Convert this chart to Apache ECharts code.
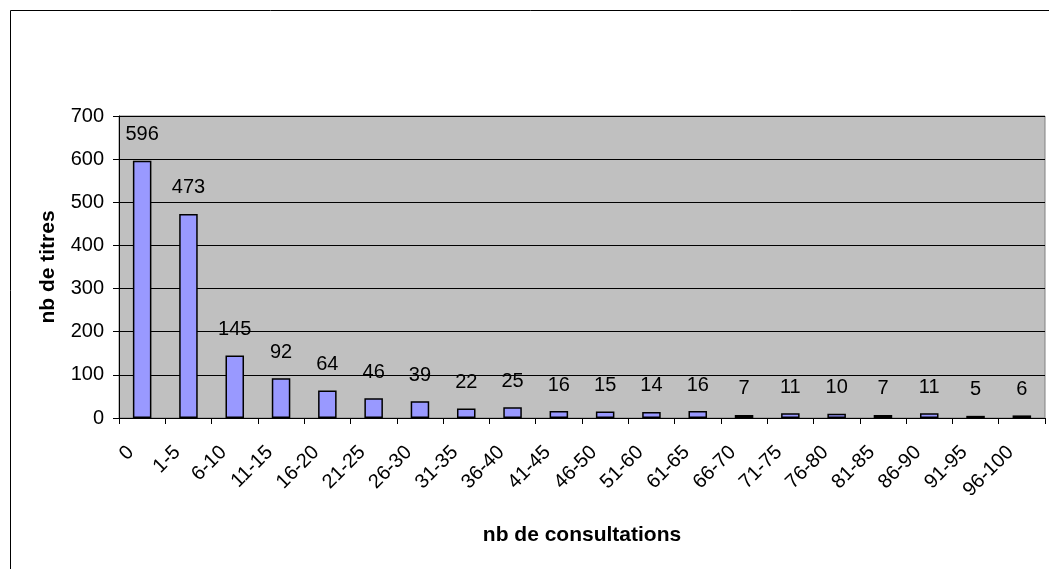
<!DOCTYPE html>
<html>
<head>
<meta charset="utf-8">
<script src="https://cdn.jsdelivr.net/npm/echarts@6/dist/echarts.min.js"></script>
<style>
  html, body { margin: 0; padding: 0; background: #fff; }
  #chart { width: 1049px; height: 569px; }
</style>
</head>
<body>
<div id="chart"></div>
<script>
// Number of titles per range of consultations
const categories = ['0', '1-5', '6-10', '11-15', '16-20', '21-25', '26-30', '31-35', '36-40', '41-45',
  '46-50', '51-60', '61-65', '66-70', '71-75', '76-80', '81-85', '86-90', '91-95', '96-100'];
const titleCounts = [596, 473, 145, 92, 64, 46, 39, 22, 25, 16, 15, 14, 16, 7, 11, 10, 7, 11, 5, 6];
const yTicks = { min: 0, max: 700, interval: 100 };

const chart = echarts.init(document.getElementById('chart'));
const font = 'Arial, "Liberation Sans", sans-serif';

chart.setOption({
  animation: false,
  graphic: [{
    type: 'rect',
    shape: { x: 10.5, y: 10.5, width: 1100, height: 600 },
    style: { fill: 'none', stroke: '#000', lineWidth: 1 },
    silent: true
  }],
  grid: {
    left: 119, top: 116, right: 4, bottom: 151,
    show: true, backgroundColor: '#C0C0C0', borderColor: '#808080', borderWidth: 1
  },
  xAxis: {
    type: 'category',
    data: categories,
    boundaryGap: true,
    name: 'nb de consultations',
    nameLocation: 'middle',
    nameGap: 107,
    nameTextStyle: { fontFamily: font, fontSize: 21, fontWeight: 'bold', color: '#000' },
    axisLine: { lineStyle: { color: '#000', width: 1 } },
    axisTick: { show: true, alignWithLabel: false, length: 6, lineStyle: { color: '#000' } },
    axisLabel: {
      rotate: 45, margin: 20, interval: 0, padding: [0, 16, 0, 0],
      fontFamily: font, fontSize: 20, color: '#000'
    },
    splitLine: { show: false }
  },
  yAxis: {
    type: 'value',
    min: yTicks.min, max: yTicks.max, interval: yTicks.interval,
    name: 'nb de titres',
    nameLocation: 'middle',
    nameGap: 60,
    nameTextStyle: { fontFamily: font, fontSize: 21, fontWeight: 'bold', color: '#000' },
    axisLine: { show: true, lineStyle: { color: '#000', width: 1 } },
    axisTick: { show: true, length: 6, lineStyle: { color: '#000' } },
    axisLabel: { margin: 15, fontFamily: font, fontSize: 20, color: '#000' },
    splitLine: { show: true, lineStyle: { color: '#000', width: 1 } }
  },
  series: [{
    type: 'bar',
    data: titleCounts,
    barWidth: '40%',
    itemStyle: { color: '#9999FF', borderColor: '#000', borderWidth: 1.5 },
    label: {
      show: true, position: 'top', distance: 16,
      fontFamily: font, fontSize: 20, color: '#000'
    }
  }]
});
</script>
</body>
</html>
